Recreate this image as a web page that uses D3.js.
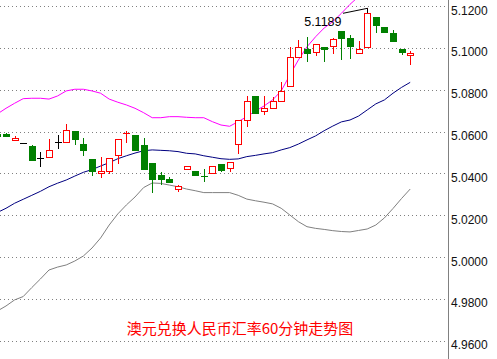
<!DOCTYPE html>
<html>
<head>
<meta charset="utf-8">
<script src="https://cdn.jsdelivr.net/npm/d3@7"></script>
<style>
  body { margin: 0; background: #fff; }
  svg { display: block; }
</style>
</head>
<body>
<div id="chart"></div>
<script>
const width = 497;
const height = 359;
const plotRight = 448;

const title = "澳元兑换人民币汇率60分钟走势图";

// 60 minute candles, oldest first (first one is cut by the left edge)
const opens = [5.0588, 5.0588, 5.0561, 5.0545, 5.0532, 5.0475, 5.0477, 5.0551, 5.0548, 5.0603,
    5.0540, 5.0469, 5.0400, 5.0410, 5.0486, 5.0592, 5.0583, 5.0536, 5.0450, 5.0392,
    5.0373, 5.0327, 5.0422, 5.0411, 5.0388, 5.0400, 5.0446, 5.0427, 5.0539, 5.0655,
    5.0770, 5.0698, 5.0711, 5.0744, 5.0816, 5.0955, 5.0994, 5.0979, 5.1003, 5.1009,
    5.1081, 5.1046, 5.0975, 5.1003, 5.1146, 5.1098, 5.1070, 5.0994, 5.0966];
const highs = [5.0588, 5.0594, 5.0577, 5.0545, 5.0536, 5.0501, 5.0564, 5.0583, 5.0636, 5.0603,
    5.0569, 5.0469, 5.0478, 5.0472, 5.0564, 5.0604, 5.0583, 5.0570, 5.0450, 5.0407,
    5.0383, 5.0342, 5.0435, 5.0411, 5.0419, 5.0435, 5.0446, 5.0454, 5.0655, 5.0770,
    5.0770, 5.0770, 5.0764, 5.0838, 5.1003, 5.1037, 5.1050, 5.1018, 5.1003, 5.1047,
    5.1081, 5.1060, 5.1031, 5.1189, 5.1146, 5.1098, 5.1085, 5.0994, 5.0985];
const lows = [5.0580, 5.0580, 5.0561, 5.0545, 5.0465, 5.0437, 5.0477, 5.0523, 5.0548, 5.0542,
    5.0489, 5.0394, 5.0384, 5.0400, 5.0451, 5.0551, 5.0513, 5.0422, 5.0312, 5.0348,
    5.0360, 5.0317, 5.0422, 5.0394, 5.0365, 5.0400, 5.0411, 5.0413, 5.0499, 5.0628,
    5.0687, 5.0685, 5.0711, 5.0744, 5.0816, 5.0955, 5.0936, 5.0964, 5.0939, 5.0974,
    5.0945, 5.0950, 5.0975, 5.1003, 5.1077, 5.1074, 5.1031, 5.0971, 5.0921];
const closes = [5.0580, 5.0580, 5.0570, 5.0545, 5.0465, 5.0475, 5.0510, 5.0551, 5.0606, 5.0566,
    5.0513, 5.0413, 5.0410, 5.0472, 5.0564, 5.0593, 5.0513, 5.0422, 5.0375, 5.0373,
    5.0360, 5.0340, 5.0435, 5.0394, 5.0387, 5.0435, 5.0418, 5.0454, 5.0655, 5.0746,
    5.0687, 5.0711, 5.0746, 5.0794, 5.0955, 5.1003, 5.0974, 5.1018, 5.0994, 5.1041,
    5.1046, 5.1007, 5.0993, 5.1165, 5.1108, 5.1074, 5.1031, 5.0979, 5.0977];

// bollinger bands
const upper = [5.0684, 5.0711, 5.0735, 5.0757, 5.0759, 5.0759, 5.0755, 5.0770, 5.0794, 5.0802,
    5.0802, 5.0794, 5.0783, 5.0755, 5.0740, 5.0727, 5.0711, 5.0690, 5.0666, 5.0666,
    5.0671, 5.0671, 5.0668, 5.0666, 5.0666, 5.0647, 5.0631, 5.0625, 5.0647, 5.0671,
    5.0698, 5.0722, 5.0751, 5.0794, 5.0870, 5.0942, 5.1005, 5.1053, 5.1095, 5.1125,
    5.1165, 5.1208, 5.1245, 5.1280, 5.1300, 5.1312, 5.1318, 5.1320, 5.1318];
const middle = [5.0213, 5.0233, 5.0257, 5.0276, 5.0295, 5.0314, 5.0336, 5.0353, 5.0368, 5.0387,
    5.0405, 5.0418, 5.0435, 5.0451, 5.0470, 5.0484, 5.0497, 5.0508, 5.0512, 5.0510,
    5.0508, 5.0504, 5.0496, 5.0493, 5.0484, 5.0477, 5.0470, 5.0467, 5.0469, 5.0480,
    5.0486, 5.0493, 5.0499, 5.0512, 5.0523, 5.0540, 5.0560, 5.0579, 5.0604, 5.0626,
    5.0646, 5.0655, 5.0674, 5.0703, 5.0732, 5.0751, 5.0783, 5.0811, 5.0835];
const lower = [4.9742, 4.9766, 4.9795, 4.9811, 4.9854, 4.9895, 4.9938, 4.9952, 4.9962, 4.9981,
    5.0005, 5.0043, 5.0091, 5.0153, 5.0206, 5.0249, 5.0287, 5.0332, 5.0354, 5.0352,
    5.0344, 5.0336, 5.0325, 5.0317, 5.0308, 5.0308, 5.0308, 5.0308, 5.0295, 5.0277,
    5.0269, 5.0262, 5.0254, 5.0233, 5.0201, 5.0169, 5.0145, 5.0137, 5.0132, 5.0126,
    5.0122, 5.0120, 5.0127, 5.0134, 5.0153, 5.0187, 5.0232, 5.0280, 5.0325];

const yTicks = [4.96, 4.98, 5.00, 5.02, 5.04, 5.06, 5.08, 5.10, 5.12];

const svg = d3.select("#chart")
    .append("svg")
    .attr("width", width)
    .attr("height", height);

svg.append("rect").attr("width", width).attr("height", height).attr("fill", "#fff");

const x = d3.scaleLinear().domain([0, opens.length - 1]).range([-2.6, 410.2]);
const y = d3.scaleLinear().domain([4.96, 5.12]).range([340.7, 6]);
const fmt = d3.format(".4f");
const px = v => Math.round(v) + 0.5;

svg.append("defs").append("clipPath")
    .attr("id", "plot")
    .append("rect")
    .attr("width", plotRight)
    .attr("height", height);

// grid + price labels
svg.append("g")
    .selectAll("line")
    .data(yTicks)
    .join("line")
    .attr("x1", 0)
    .attr("x2", plotRight - 1)
    .attr("y1", d => px(y(d)))
    .attr("y2", d => px(y(d)))
    .attr("stroke", "#808080")
    .attr("stroke-dasharray", "1,3");

svg.append("line")
    .attr("x1", plotRight + 0.5)
    .attr("x2", plotRight + 0.5)
    .attr("y1", 0)
    .attr("y2", height)
    .attr("stroke", "#808080");

svg.append("g")
    .selectAll("text")
    .data(yTicks)
    .join("text")
    .attr("x", plotRight + 3)
    .attr("y", d => y(d) + 8.5)
    .attr("font-family", "'Liberation Sans', Arial, sans-serif")
    .attr("font-size", 12)
    .attr("fill", "#111")
    .text(d => fmt(d));

svg.append("text")
    .attr("x", 240)
    .attr("y", 334)
    .attr("text-anchor", "middle")
    .attr("font-family", "'Noto Sans CJK SC', sans-serif")
    .attr("font-size", 15)
    .attr("fill", "#ff0000")
    .text(title);

const plot = svg.append("g").attr("clip-path", "url(#plot)");

const line = d3.line()
    .x((d, i) => x(i))
    .y(d => y(d));

[[upper, "#ff00ff"], [middle, "#000080"], [lower, "#808080"]].forEach(([values, color]) => {
    plot.append("path")
        .datum(values)
        .attr("d", line)
        .attr("fill", "none")
        .attr("stroke", color)
        .attr("stroke-width", 1);
});

// candles
opens.forEach((o, i) => {
    const c = closes[i];
    const cx = px(x(i));
    const color = c > o ? "#ff0000" : c < o ? "#008000" : "#000000";
    const yTop = Math.round(y(Math.max(o, c)));
    const yBot = Math.round(y(Math.min(o, c)));

    plot.append("line")
        .attr("x1", cx).attr("x2", cx)
        .attr("y1", Math.round(y(highs[i])))
        .attr("y2", Math.round(y(lows[i])) + 1)
        .attr("stroke", color);

    if (yBot - yTop < 1) {
        plot.append("line")
            .attr("x1", cx - 3.5).attr("x2", cx + 3.5)
            .attr("y1", yTop + 0.5).attr("y2", yTop + 0.5)
            .attr("stroke", color);
    } else if (c > o) {
        plot.append("rect")
            .attr("x", cx - 3).attr("width", 6)
            .attr("y", yTop + 0.5).attr("height", yBot - yTop)
            .attr("fill", "#fff")
            .attr("stroke", color);
    } else {
        plot.append("rect")
            .attr("x", cx - 3.5).attr("width", 7)
            .attr("y", yTop).attr("height", yBot - yTop + 1)
            .attr("fill", color);
    }
});

// highest price marker
const mi = d3.maxIndex(highs);
const hx = px(x(mi));
const hy = y(highs[mi]);
plot.append("path")
    .attr("d", `M${hx - 24.5},${hy + 5} L${hx},${hy} L${hx},${Math.round(y(closes[mi]))}`)
    .attr("fill", "none")
    .attr("stroke", "#000");

plot.append("text")
    .attr("x", hx - 26)
    .attr("y", hy + 17.5)
    .attr("text-anchor", "end")
    .attr("font-family", "'Liberation Sans', Arial, sans-serif")
    .attr("font-size", 12.5)
    .attr("fill", "#000")
    .text(fmt(highs[mi]));
</script>
</body>
</html>
